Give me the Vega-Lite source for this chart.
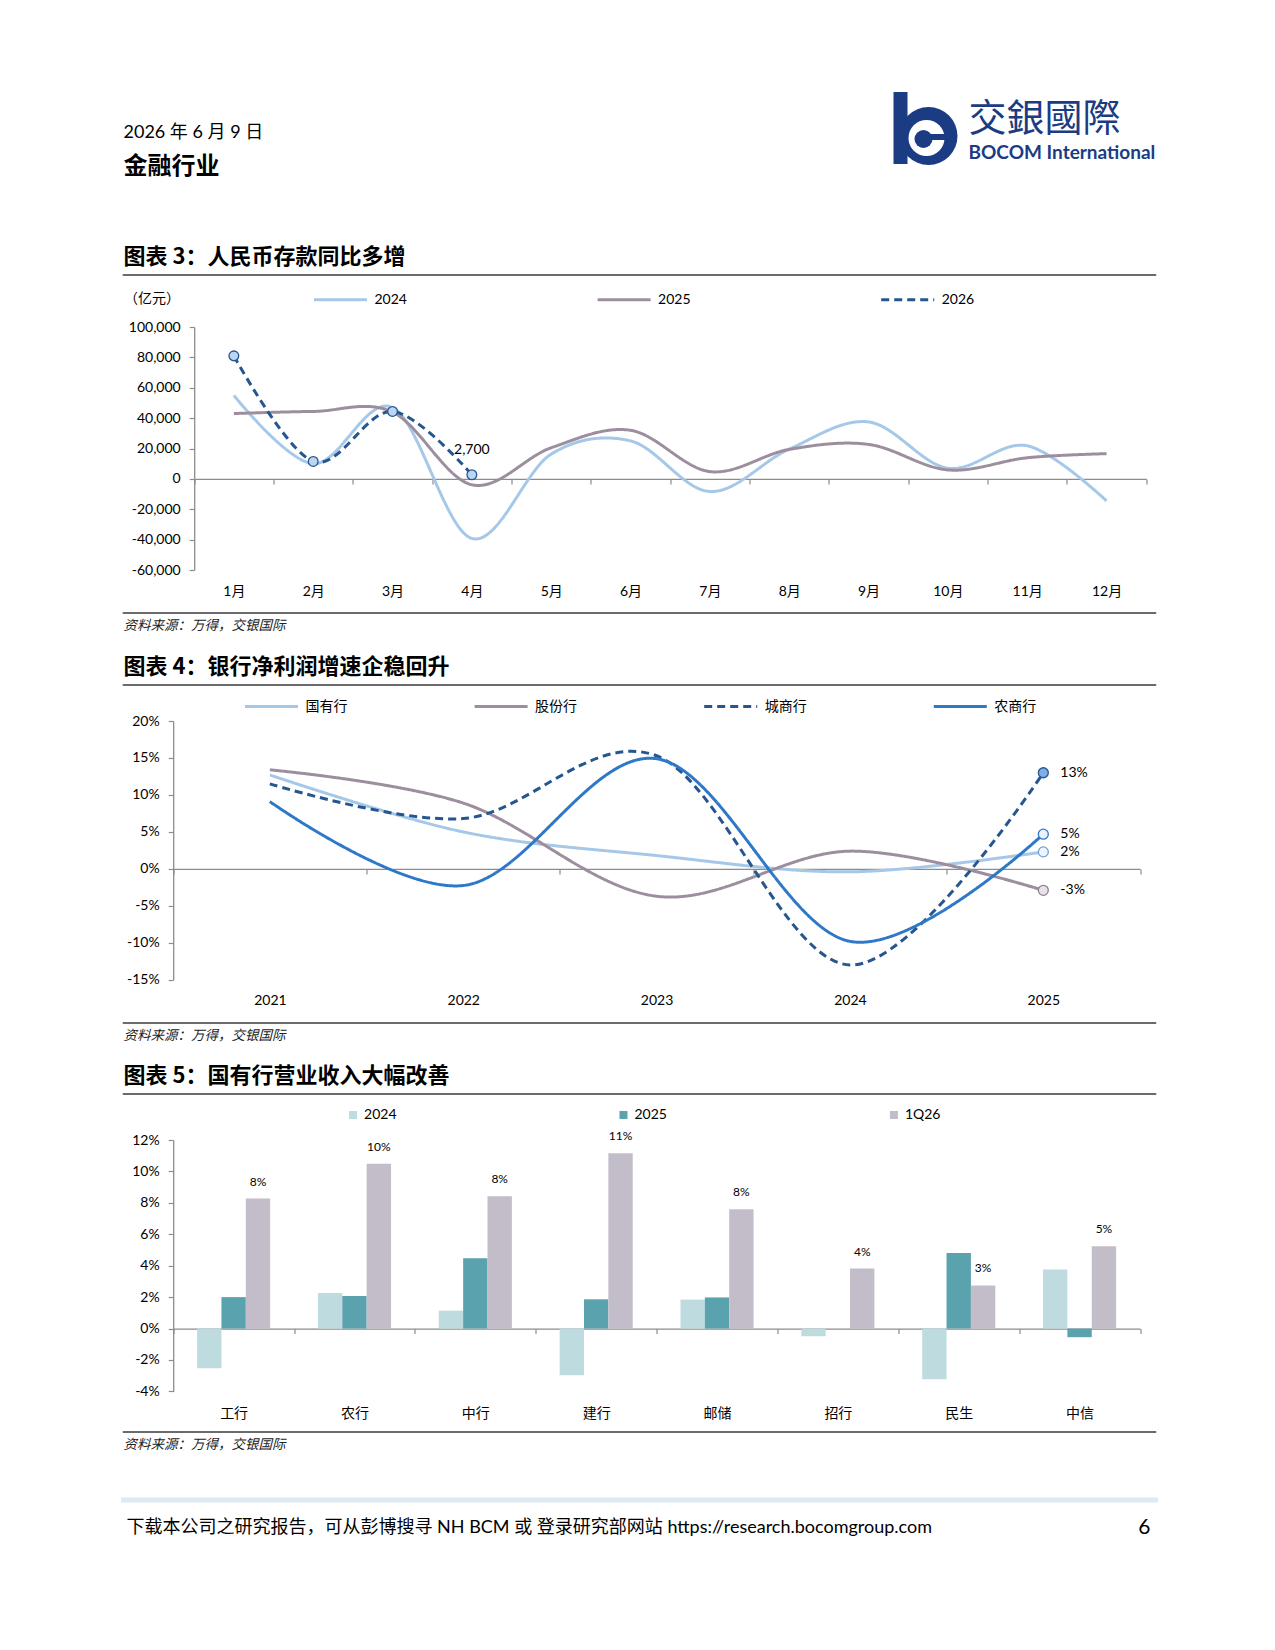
{
  "$schema": "https://vega.github.io/schema/vega-lite/v6.json",
  "usermeta": {"embedOptions": {"actions": false}},
  "padding": {"left": 120.5, "top": 0, "right": 0, "bottom": 0},
  "background": "white",
  "bounds": "flush",
  "spacing": 0,
  "resolve": {
    "scale": {"x": "independent", "y": "independent", "color": "independent", "strokeDash": "independent", "fill": "independent", "stroke": "independent", "xOffset": "independent"},
    "legend": {"color": "independent", "strokeDash": "independent"}
  },
  "config": {
    "font": "Lato, 'Noto Sans CJK SC'",
    "view": {"stroke": null},
    "locale": {"number": {"decimal": ".", "thousands": ",", "grouping": [3], "currency": ["$", ""], "minus": "-"}},
    "axis": {"grid": false, "labelFont": "Lato, 'Noto Sans CJK SC'", "labelFontSize": 14, "labelColor": "#000", "domainColor": "#8C8C8C", "tickColor": "#8C8C8C", "domainWidth": 1.3, "tickWidth": 1.2, "tickSize": 5, "labelPadding": 9},
    "legend": {"labelFont": "Lato, 'Noto Sans CJK SC'", "labelFontSize": 14, "labelColor": "#000"}
  },
  "vconcat": [
    {
      "width": 1032, "height": 274.5,
      "data": {"values": [{}]},
      "layer": [
        {"mark": {"type": "text", "text": "2026 年 6 月 9 日", "align": "left", "baseline": "middle", "fontSize": 18, "color": "#000"},
         "encoding": {"x": {"datum": 0, "type": "quantitative", "scale": {"domain": [0, 1032], "nice": false, "zero": false}, "axis": null},
                      "y": {"datum": 133, "type": "quantitative", "scale": {"domain": [0, 274.5], "reverse": true, "nice": false, "zero": false}, "axis": null}}},
        {"mark": {"type": "text", "text": "金融行业", "align": "left", "baseline": "middle", "fontSize": 24, "fontWeight": "bold", "color": "#000"},
         "encoding": {"x": {"datum": 0, "type": "quantitative"}, "y": {"datum": 166.6, "type": "quantitative"}}},
        {"mark": {"type": "text", "text": "交銀國際", "align": "left", "baseline": "middle", "fontSize": 38, "font": "'Noto Sans CJK TC'", "color": "#1B3C83"},
         "encoding": {"x": {"datum": 845, "type": "quantitative"}, "y": {"datum": 119.5, "type": "quantitative"}}},
        {"mark": {"type": "text", "text": "BOCOM International", "align": "left", "baseline": "middle", "fontSize": 19, "fontWeight": "bold", "font": "Lato", "color": "#1B3C83"},
         "encoding": {"x": {"datum": 845, "type": "quantitative"}, "y": {"datum": 153, "type": "quantitative"}}},
        {"mark": {"type": "rect", "color": "#1B3C83"},
         "encoding": {"x": {"datum": 770, "type": "quantitative"}, "x2": {"datum": 784}, "y": {"datum": 92, "type": "quantitative"}, "y2": {"datum": 164}}},
        {"mark": {"type": "point", "shape": "circle", "filled": true, "color": "#1B3C83", "size": 3364, "opacity": 1},
         "encoding": {"x": {"datum": 805, "type": "quantitative"}, "y": {"datum": 136, "type": "quantitative"}}},
        {"mark": {"type": "point", "shape": "circle", "filled": true, "color": "#FFFFFF", "size": 1296, "opacity": 1},
         "encoding": {"x": {"datum": 803, "type": "quantitative"}, "y": {"datum": 138, "type": "quantitative"}}},
        {"mark": {"type": "rect", "color": "#1B3C83"},
         "encoding": {"x": {"datum": 800, "type": "quantitative"}, "x2": {"datum": 824}, "y": {"datum": 134, "type": "quantitative"}, "y2": {"datum": 140}}},
        {"mark": {"type": "point", "shape": "circle", "filled": true, "color": "#1B3C83", "size": 324, "opacity": 1},
         "encoding": {"x": {"datum": 800, "type": "quantitative"}, "y": {"datum": 139, "type": "quantitative"}}}
      ]
    },
    {
      "width": 1032, "height": 0.1,
      "view": {"stroke": "#3a3a3a", "strokeWidth": 1.5},
      "data": {"values": []}, "mark": "point", "encoding": {},
      "title": {"text": "图表 3：人民币存款同比多增", "orient": "top", "anchor": "start", "frame": "group", "offset": 6, "fontSize": 22, "font": "'Noto Sans CJK SC'", "fontWeight": "bold", "color": "#000"}
    },
    {"width": 1, "height": 50.1, "data": {"values": []}, "mark": "point", "encoding": {}},
    {
      "width": 1032, "height": 243,
      "data": {"values": [
        {"i": 1, "s": "2024", "v": 55000}, {"i": 2, "s": "2024", "v": 10000}, {"i": 3, "s": "2024", "v": 47000}, {"i": 4, "s": "2024", "v": -39200},
        {"i": 5, "s": "2024", "v": 16300}, {"i": 6, "s": "2024", "v": 25000}, {"i": 7, "s": "2024", "v": -8300}, {"i": 8, "s": "2024", "v": 19600},
        {"i": 9, "s": "2024", "v": 37500}, {"i": 10, "s": "2024", "v": 7000}, {"i": 11, "s": "2024", "v": 21800}, {"i": 12, "s": "2024", "v": -14500},
        {"i": 1, "s": "2025", "v": 43000}, {"i": 2, "s": "2025", "v": 44400}, {"i": 3, "s": "2025", "v": 44000}, {"i": 4, "s": "2025", "v": -3900},
        {"i": 5, "s": "2025", "v": 20500}, {"i": 6, "s": "2025", "v": 32000}, {"i": 7, "s": "2025", "v": 4800}, {"i": 8, "s": "2025", "v": 19400},
        {"i": 9, "s": "2025", "v": 22700}, {"i": 10, "s": "2025", "v": 5900}, {"i": 11, "s": "2025", "v": 13900}, {"i": 12, "s": "2025", "v": 16600},
        {"i": 1, "s": "2026", "v": 81000}, {"i": 2, "s": "2026", "v": 11500}, {"i": 3, "s": "2026", "v": 44400}, {"i": 4, "s": "2026", "v": 2700}
      ]},
      "layer": [
        {
          "mark": {"type": "line", "interpolate": "cardinal", "strokeWidth": 3},
          "encoding": {
            "x": {"field": "i", "type": "ordinal", "scale": {"type": "band", "paddingInner": 0, "paddingOuter": 0, "rangeMin": 70.7, "rangeMax": 1022.7},
                  "axis": {"orient": "bottom", "offset": -91.1, "tickBand": "extent", "labelPadding": 101, "labelAngle": 0, "labelExpr": "datum.label ? datum.label + '月' : ''", "title": null}},
            "y": {"field": "v", "type": "quantitative", "scale": {"domain": [-60000, 100000], "nice": false, "zero": false},
                  "axis": {"offset": -70.7, "tickCount": 50, "labelOverlap": false, "values": [-60000, -40000, -20000, 0, 20000, 40000, 60000, 80000, 100000], "format": ",.0f", "title": "（亿元）", "titleAngle": 0, "titleAlign": "left", "titleBaseline": "middle", "titleX": -70.7, "titleY": -28.3, "titleFont": "'Noto Sans CJK SC'", "titleFontSize": 14, "titleFontWeight": "normal", "titleColor": "#000"}},
            "color": {"field": "s", "type": "nominal", "scale": {"domain": ["2024", "2025", "2026"], "range": ["#A6C8E8", "#9C8E9E", "#25568F"]},
                      "legend": {"title": null, "orient": "none", "legendX": 189, "legendY": -55.3, "direction": "horizontal", "symbolType": "stroke", "symbolSize": 2809, "symbolStrokeWidth": 3, "labelOffset": 6, "columnPadding": 183.6}},
            "strokeDash": {"field": "s", "type": "nominal", "scale": {"domain": ["2024", "2025", "2026"], "range": [[1, 0], [1, 0], [8, 5]]},
                      "legend": {"title": null, "orient": "none", "legendX": 189, "legendY": -55.3, "direction": "horizontal", "symbolType": "stroke", "symbolSize": 2809, "symbolStrokeWidth": 3, "labelOffset": 6, "columnPadding": 183.6}}
          }
        },
        {
          "transform": [{"filter": "datum.s == '2026'"}],
          "mark": {"type": "point", "filled": true, "size": 95, "fill": "#BCD6F2", "stroke": "#25568F", "strokeWidth": 1.3, "opacity": 1},
          "encoding": {"x": {"field": "i", "type": "ordinal"}, "y": {"field": "v", "type": "quantitative"}}
        },
        {
          "transform": [{"filter": "datum.s == '2026' && datum.i == 4"}],
          "mark": {"type": "text", "dy": -25, "fontSize": 14, "font": "Lato", "color": "#000"},
          "encoding": {"x": {"field": "i", "type": "ordinal"}, "y": {"field": "v", "type": "quantitative"}, "text": {"field": "v", "type": "quantitative", "format": ",.0f"}}
        }
      ]
    },
    {"width": 1, "height": 42.9, "data": {"values": []}, "mark": "point", "encoding": {}},
    {
      "width": 1032, "height": 0.1,
      "view": {"stroke": "#3a3a3a", "strokeWidth": 1.5},
      "data": {"values": []}, "mark": "point", "encoding": {},
      "title": {"text": "资料来源：万得，交银国际", "orient": "bottom", "anchor": "start", "frame": "group", "offset": 6, "fontSize": 13.5, "font": "'Noto Sans CJK SC'", "fontStyle": "italic", "fontWeight": "normal", "color": "#222"}
    },
    {"width": 1, "height": 70.1, "data": {"values": []}, "mark": "point", "encoding": {}},
    {
      "width": 1032, "height": 0.1,
      "view": {"stroke": "#3a3a3a", "strokeWidth": 1.5},
      "data": {"values": []}, "mark": "point", "encoding": {},
      "title": {"text": "图表 4：银行净利润增速企稳回升", "orient": "top", "anchor": "start", "frame": "group", "offset": 6, "fontSize": 22, "font": "'Noto Sans CJK SC'", "fontWeight": "bold", "color": "#000"}
    },
    {"width": 1, "height": 34.4, "data": {"values": []}, "mark": "point", "encoding": {}},
    {
      "width": 1032, "height": 258.8,
      "data": {"values": [
        {"yr": 2021, "s": "国有行", "v": 0.127}, {"yr": 2022, "s": "国有行", "v": 0.050}, {"yr": 2023, "s": "国有行", "v": 0.018}, {"yr": 2024, "s": "国有行", "v": -0.004}, {"yr": 2025, "s": "国有行", "v": 0.023},
        {"yr": 2021, "s": "股份行", "v": 0.134}, {"yr": 2022, "s": "股份行", "v": 0.089}, {"yr": 2023, "s": "股份行", "v": -0.037}, {"yr": 2024, "s": "股份行", "v": 0.024}, {"yr": 2025, "s": "股份行", "v": -0.029},
        {"yr": 2021, "s": "城商行", "v": 0.115}, {"yr": 2022, "s": "城商行", "v": 0.068}, {"yr": 2023, "s": "城商行", "v": 0.153}, {"yr": 2024, "s": "城商行", "v": -0.130}, {"yr": 2025, "s": "城商行", "v": 0.130},
        {"yr": 2021, "s": "农商行", "v": 0.091}, {"yr": 2022, "s": "农商行", "v": -0.0225}, {"yr": 2023, "s": "农商行", "v": 0.149}, {"yr": 2024, "s": "农商行", "v": -0.098}, {"yr": 2025, "s": "农商行", "v": 0.047}
      ]},
      "layer": [
        {
          "mark": {"type": "line", "interpolate": "cardinal", "strokeWidth": 3},
          "encoding": {
            "x": {"field": "yr", "type": "ordinal", "scale": {"type": "band", "paddingInner": 0, "paddingOuter": 0, "rangeMin": 49.7, "rangeMax": 1016.5},
                  "axis": {"orient": "bottom", "offset": -110.9, "tickBand": "extent", "labelPadding": 119.9, "labelAngle": 0, "title": null}},
            "y": {"field": "v", "type": "quantitative", "scale": {"domain": [-0.15, 0.2], "nice": false, "zero": false},
                  "axis": {"offset": -49.7, "tickCount": 50, "labelOverlap": false, "values": [-0.15, -0.1, -0.05, 0, 0.05, 0.1, 0.15, 0.2], "format": ".0%", "title": null}},
            "color": {"field": "s", "type": "nominal", "scale": {"domain": ["国有行", "股份行", "城商行", "农商行"], "range": ["#A6C8E8", "#9C8E9E", "#25568F", "#2E78C8"]},
                      "legend": {"title": null, "orient": "none", "legendX": 120, "legendY": -42.5, "direction": "horizontal", "symbolType": "stroke", "symbolSize": 2809, "symbolStrokeWidth": 3, "labelOffset": 6, "columnPadding": 120.6, "labelFont": "'Noto Sans CJK SC'"}},
            "strokeDash": {"field": "s", "type": "nominal", "scale": {"domain": ["国有行", "股份行", "城商行", "农商行"], "range": [[1, 0], [1, 0], [8, 5], [1, 0]]},
                      "legend": {"title": null, "orient": "none", "legendX": 120, "legendY": -42.5, "direction": "horizontal", "symbolType": "stroke", "symbolSize": 2809, "symbolStrokeWidth": 3, "labelOffset": 6, "columnPadding": 120.6, "labelFont": "'Noto Sans CJK SC'"}}
          }
        },
        {
          "transform": [{"filter": "datum.yr == 2025"}],
          "mark": {"type": "point", "filled": true, "size": 100, "strokeWidth": 1.3, "opacity": 1},
          "encoding": {
            "x": {"field": "yr", "type": "ordinal"}, "y": {"field": "v", "type": "quantitative"},
            "fill": {"field": "s", "type": "nominal", "scale": {"domain": ["国有行", "股份行", "城商行", "农商行"], "range": ["#EEF4FB", "#E6E2E8", "#7EAEE3", "#EAF2FB"]}, "legend": null},
            "stroke": {"field": "s", "type": "nominal", "scale": {"domain": ["国有行", "股份行", "城商行", "农商行"], "range": ["#6FA3D8", "#8E8191", "#25568F", "#2E78C8"]}, "legend": null}
          }
        },
        {
          "transform": [{"filter": "datum.yr == 2025"}],
          "mark": {"type": "text", "dx": 17, "align": "left", "baseline": "middle", "fontSize": 14, "font": "Lato", "color": "#000"},
          "encoding": {"x": {"field": "yr", "type": "ordinal"}, "y": {"field": "v", "type": "quantitative"}, "text": {"field": "v", "type": "quantitative", "format": ".0%"}}
        }
      ]
    },
    {"width": 1, "height": 42.9, "data": {"values": []}, "mark": "point", "encoding": {}},
    {
      "width": 1032, "height": 0.1,
      "view": {"stroke": "#3a3a3a", "strokeWidth": 1.5},
      "data": {"values": []}, "mark": "point", "encoding": {},
      "title": {"text": "资料来源：万得，交银国际", "orient": "bottom", "anchor": "start", "frame": "group", "offset": 6, "fontSize": 13.5, "font": "'Noto Sans CJK SC'", "fontStyle": "italic", "fontWeight": "normal", "color": "#222"}
    },
    {"width": 1, "height": 69.2, "data": {"values": []}, "mark": "point", "encoding": {}},
    {
      "width": 1032, "height": 0.1,
      "view": {"stroke": "#3a3a3a", "strokeWidth": 1.5},
      "data": {"values": []}, "mark": "point", "encoding": {},
      "title": {"text": "图表 5：国有行营业收入大幅改善", "orient": "top", "anchor": "start", "frame": "group", "offset": 6, "fontSize": 22, "font": "'Noto Sans CJK SC'", "fontWeight": "bold", "color": "#000"}
    },
    {"width": 1, "height": 44.9, "data": {"values": []}, "mark": "point", "encoding": {}},
    {
      "width": 1032, "height": 251.4,
      "data": {"values": [
        {"b": "工行", "s": "2024", "v": -0.0253}, {"b": "工行", "s": "2025", "v": 0.0200}, {"b": "工行", "s": "1Q26", "v": 0.0827},
        {"b": "农行", "s": "2024", "v": 0.0226}, {"b": "农行", "s": "2025", "v": 0.0207}, {"b": "农行", "s": "1Q26", "v": 0.1049},
        {"b": "中行", "s": "2024", "v": 0.0114}, {"b": "中行", "s": "2025", "v": 0.0447}, {"b": "中行", "s": "1Q26", "v": 0.0842},
        {"b": "建行", "s": "2024", "v": -0.0297}, {"b": "建行", "s": "2025", "v": 0.0186}, {"b": "建行", "s": "1Q26", "v": 0.1116},
        {"b": "邮储", "s": "2024", "v": 0.0184}, {"b": "邮储", "s": "2025", "v": 0.0198}, {"b": "邮储", "s": "1Q26", "v": 0.0759},
        {"b": "招行", "s": "2024", "v": -0.0049}, {"b": "招行", "s": "2025", "v": 0.0}, {"b": "招行", "s": "1Q26", "v": 0.0382},
        {"b": "民生", "s": "2024", "v": -0.0323}, {"b": "民生", "s": "2025", "v": 0.0481}, {"b": "民生", "s": "1Q26", "v": 0.0274},
        {"b": "中信", "s": "2024", "v": 0.0376}, {"b": "中信", "s": "2025", "v": -0.0055}, {"b": "中信", "s": "1Q26", "v": 0.0523}
      ]},
      "layer": [
        {
          "mark": {"type": "bar"},
          "encoding": {
            "x": {"field": "b", "type": "nominal", "sort": ["工行", "农行", "中行", "建行", "邮储", "招行", "民生", "中信"], "scale": {"type": "band", "paddingInner": 0, "paddingOuter": 0, "rangeMin": 49.7, "rangeMax": 1016.5},
                  "axis": {"orient": "bottom", "offset": -62.85, "tickBand": "extent", "labelPadding": 72.85, "labelAngle": 0, "labelFont": "'Noto Sans CJK SC'", "title": null}},
            "xOffset": {"field": "s", "type": "nominal", "sort": ["2024", "2025", "1Q26"], "scale": {"paddingInner": 0, "paddingOuter": 0.98}},
            "y": {"field": "v", "type": "quantitative", "scale": {"domain": [-0.04, 0.12], "nice": false, "zero": false},
                  "axis": {"offset": -49.7, "tickCount": 50, "labelOverlap": false, "values": [-0.04, -0.02, 0, 0.02, 0.04, 0.06, 0.08, 0.1, 0.12], "format": ".0%", "title": null, "labelFont": "'Liberation Sans Narrow', Lato"}},
            "color": {"field": "s", "type": "nominal", "sort": ["2024", "2025", "1Q26"], "scale": {"domain": ["2024", "2025", "1Q26"], "range": ["#BEDCDF", "#5AA2AE", "#C3BCC9"]},
                      "legend": {"title": null, "orient": "none", "legendX": 222.6, "legendY": -32, "direction": "horizontal", "symbolType": "square", "symbolSize": 64, "labelOffset": 4, "columnPadding": 219.4, "labelFont": "'Liberation Sans Narrow', Lato"}}
          }
        },
        {
          "transform": [{"filter": "datum.s == '1Q26'"}],
          "mark": {"type": "text", "dy": -17, "baseline": "middle", "fontSize": 12, "font": "'Liberation Sans Narrow', Lato", "color": "#000"},
          "encoding": {
            "x": {"field": "b", "type": "nominal", "sort": ["工行", "农行", "中行", "建行", "邮储", "招行", "民生", "中信"]},
            "xOffset": {"field": "s", "type": "nominal", "sort": ["2024", "2025", "1Q26"]},
            "y": {"field": "v", "type": "quantitative"},
            "text": {"field": "v", "type": "quantitative", "format": ".0%"}
          }
        }
      ]
    },
    {"width": 1, "height": 39.8, "data": {"values": []}, "mark": "point", "encoding": {}},
    {
      "width": 1032, "height": 0.1,
      "view": {"stroke": "#3a3a3a", "strokeWidth": 1.5},
      "data": {"values": []}, "mark": "point", "encoding": {},
      "title": {"text": "资料来源：万得，交银国际", "orient": "bottom", "anchor": "start", "frame": "group", "offset": 6, "fontSize": 13.5, "font": "'Noto Sans CJK SC'", "fontStyle": "italic", "fontWeight": "normal", "color": "#222"}
    },
    {"width": 1, "height": 66.9, "data": {"values": []}, "mark": "point", "encoding": {}},
    {
      "width": 1032, "height": 0.1,
      "view": {"stroke": "#DCEAF1", "strokeWidth": 5},
      "data": {"values": []}, "mark": "point", "encoding": {}
    },
    {
      "width": 1032, "height": 54.4,
      "data": {"values": [{}]},
      "layer": [
        {"mark": {"type": "text", "text": "下载本公司之研究报告，可从彭博搜寻 NH BCM 或 登录研究部网站 https://research.bocomgroup.com", "align": "left", "baseline": "middle", "fontSize": 18, "color": "#000"},
         "encoding": {"x": {"datum": 3, "type": "quantitative", "scale": {"domain": [0, 1032], "nice": false, "zero": false}, "axis": null}}},
        {"mark": {"type": "text", "text": "6", "align": "right", "baseline": "middle", "fontSize": 21, "font": "Lato", "color": "#000"},
         "encoding": {"x": {"datum": 1027, "type": "quantitative"}}}
      ]
    }
  ]
}
